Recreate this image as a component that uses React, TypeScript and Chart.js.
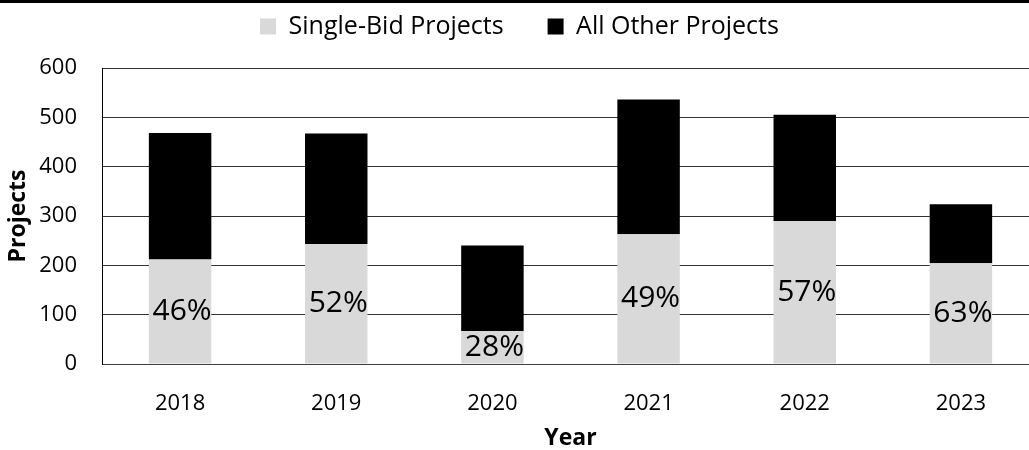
import React, { useEffect, useRef } from 'react';
import { Chart, registerables } from 'chart.js';

Chart.register(...registerables);

const years = ['2018', '2019', '2020', '2021', '2022', '2023'];
const singleBid = [212, 243, 67, 263, 290, 204];
const allOther = [256, 224, 173, 273, 215, 120];
const shareLabels = ['46%', '52%', '28%', '49%', '57%', '63%'];
const seriesNames = ['Single-Bid Projects', 'All Other Projects'];
const yMin = 0;
const yMax = 600;
const yStep = 100;

const FONT = "'Open Sans', 'DejaVu Sans', sans-serif";

const shareLabelPlugin = {
  id: 'shareLabels',
  afterDatasetsDraw(chart: any) {
    const meta = chart.getDatasetMeta(0);
    const ctx = chart.ctx;
    ctx.save();
    ctx.font = `30px ${FONT}`;
    ctx.fillStyle = '#000';
    ctx.textAlign = 'center';
    ctx.textBaseline = 'middle';
    meta.data.forEach((bar: any, i: number) => {
      const cy = (bar.y + bar.base) / 2;
      ctx.fillText(shareLabels[i], bar.x + 2, cy);
    });
    ctx.restore();
  },
};

export default function App() {
  const canvasRef = useRef<HTMLCanvasElement | null>(null);

  useEffect(() => {
    if (!canvasRef.current) return;
    Chart.defaults.font.family = FONT;
    const chart = new Chart(canvasRef.current, {
      type: 'bar',
      data: {
        labels: years,
        datasets: [
          {
            label: seriesNames[0],
            data: singleBid,
            backgroundColor: '#d9d9d9',
            borderWidth: 0,
            barPercentage: 0.4,
            categoryPercentage: 1,
          },
          {
            label: seriesNames[1],
            data: allOther,
            backgroundColor: '#000000',
            borderWidth: 0,
            barPercentage: 0.4,
            categoryPercentage: 1,
          },
        ],
      },
      options: {
        responsive: false,
        animation: false,
        layout: { padding: { top: -4, left: 0, right: 1, bottom: 0 } },
        plugins: {
          tooltip: { enabled: false },
          title: {
            display: true,
            text: '',
            font: { size: 1, lineHeight: 1 },
            padding: { top: 18, bottom: 0 },
          },
          legend: {
            position: 'top',
            weight: 3000,
            labels: {
              color: '#000',
              boxWidth: 16,
              boxHeight: 16,
              padding: 18,
              font: { size: 25, family: FONT },
              generateLabels: (ch: any) => {
                const items = Chart.defaults.plugins.legend.labels.generateLabels(ch);
                items.forEach((it: any, i: number) => {
                  it.lineWidth = 0;
                  if (i === 0) it.text = it.text + '    ';
                });
                return items;
              },
            },
          } as any,
        },
        scales: {
          x: {
            stacked: true,
            grid: { display: false },
            border: { display: true, color: '#404040', width: 1 },
            ticks: { color: '#000', padding: 19, font: { size: 22, family: FONT } },
            title: {
              display: true,
              text: 'Year',
              color: '#000',
              font: { size: 23, weight: 'bold', family: FONT },
              padding: { top: 0, bottom: -2 },
            },
            afterFit: (s: any) => {
              s.height = 86;
            },
          },
          y: {
            stacked: true,
            min: yMin,
            max: yMax,
            ticks: { stepSize: yStep, color: '#000', padding: 25, font: { size: 22, family: FONT } },
            grid: { color: '#333333', lineWidth: 1, drawTicks: false },
            border: { display: true, color: '#000', width: 1 },
            title: {
              display: true,
              text: 'Projects',
              color: '#000',
              font: { size: 23, weight: 'bold', family: FONT },
              padding: { top: 5, bottom: 0 },
            },
            afterFit: (s: any) => {
              s.width = 102;
            },
          },
        },
      },
      plugins: [shareLabelPlugin],
    });
    return () => chart.destroy();
  }, []);

  return (
    <div style={{ position: 'absolute', top: 0, left: 0, width: 1029, height: 450, overflow: 'hidden', background: '#fff' }}>
      <canvas ref={canvasRef} width={1040} height={450} style={{ display: 'block', width: 1040, height: 450 }} />
      <div style={{ position: 'absolute', top: 0, left: 0, width: 1029, height: 3, background: '#000' }} />
    </div>
  );
}
